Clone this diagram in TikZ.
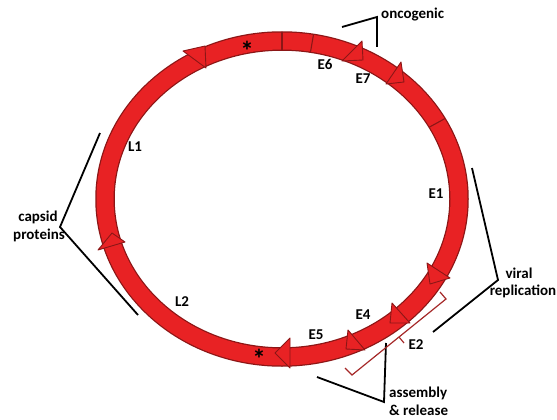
\documentclass[tikz,border=0pt]{standalone}
\usepackage{fontspec}
\setmainfont{Carlito}
\usetikzlibrary{calc}
\definecolor{ringred}{RGB}{232,34,36}
\definecolor{ringdark}{RGB}{140,22,22}
\definecolor{bracketred}{RGB}{165,40,40}
\begin{document}
\begin{tikzpicture}[x=1pt,y=-1pt,
  lbl/.style={font=\fontsize{15}{16}\selectfont\bfseries, inner sep=0pt},
  starlbl/.style={font=\fontsize{27}{27}\selectfont\bfseries, inner sep=0pt},
  tri/.style={fill=ringred, draw=ringdark, line width=0.9pt, line join=round},
  divider/.style={draw=ringdark, line width=1.1pt},
  blackbr/.style={draw=black, line width=1.8pt, line join=miter},
  e2br/.style={draw=bracketred, line width=1.2pt}]
\useasboundingbox (0,0) rectangle (557,420);
\coordinate (c) at (282,199);
% ring band
\draw[ringdark, line width=19.5pt] (c) ellipse [x radius=177pt, y radius=158pt];
\draw[ringred, line width=17pt] (c) ellipse [x radius=177pt, y radius=158pt];
% dividers
\draw[divider] ($(c)+(90:186pt and 167pt)$) -- ($(c)+(90:168pt and 149pt)$);
\draw[divider] ($(c)+(80.24:186pt and 167pt)$) -- ($(c)+(80.24:168pt and 149pt)$);
\draw[divider] ($(c)+(28.8:186pt and 167pt)$) -- ($(c)+(28.8:168pt and 149pt)$);
% arrowheads
\draw[tri] (183,51) -- (205,46) -- (206,68) -- cycle;
\draw[tri] (342,61) -- (362,41) -- (363,60) -- cycle;
\draw[tri] (401,62) -- (386,84) -- (404,82) -- cycle;
\draw[tri] (427,263) -- (430,284) -- (450,278) -- cycle;
\draw[tri] (392,303) -- (390,323) -- (410,323) -- cycle;
\draw[tri] (348,330) -- (346,349) -- (365,350) -- cycle;
\draw[tri] (275,353) -- (290,338) -- (290,368) -- cycle;
\draw[tri] (98,250) -- (112,233) -- (125,242) -- cycle;
% labels
\node[lbl, anchor=west] (onc) at (381,15) {oncogenic};
\node[lbl] (e6) at (325,64) {E6};
\node[lbl] (e7) at (363,79) {E7};
\node[lbl] (l1) at (135,147) {L1};
\node[lbl] (e1) at (436,194) {E1};
\node[lbl] (cap) at (38,217) {capsid};
\node[lbl] (prot) at (39,235) {proteins};
\node[lbl] (l2) at (182,302) {L2};
\node[lbl] (vir) at (519,273) {viral};
\node[lbl] (rep) at (523,291) {replication};
\node[lbl] (e4) at (363,315) {E4};
\node[lbl] (e5) at (316,335) {E5};
\node[lbl] (e2) at (416,345) {E2};
\node[lbl, anchor=west] (asm) at (389,393) {assembly};
\node[lbl, anchor=west] (rel) at (389,410) {\& release};
\node[starlbl] (s1) at (247,51) {*};
\node[starlbl] (s2) at (259,359) {*};
% black brackets
\draw[blackbr] (342,27) -- (377,17) -- (377,47);
\draw[blackbr] (100,133) -- (60,227) -- (138,315);
\draw[blackbr] (472,168) -- (498,280) -- (433,332);
\draw[blackbr] (317,377) -- (384,402) -- (386,343);
% E2 bracket
\draw[e2br] (345,368) -- (352,375) -- (446,299) -- (440,292);
\draw[e2br] (399,337) -- (404,343);
\end{tikzpicture}
\end{document}
